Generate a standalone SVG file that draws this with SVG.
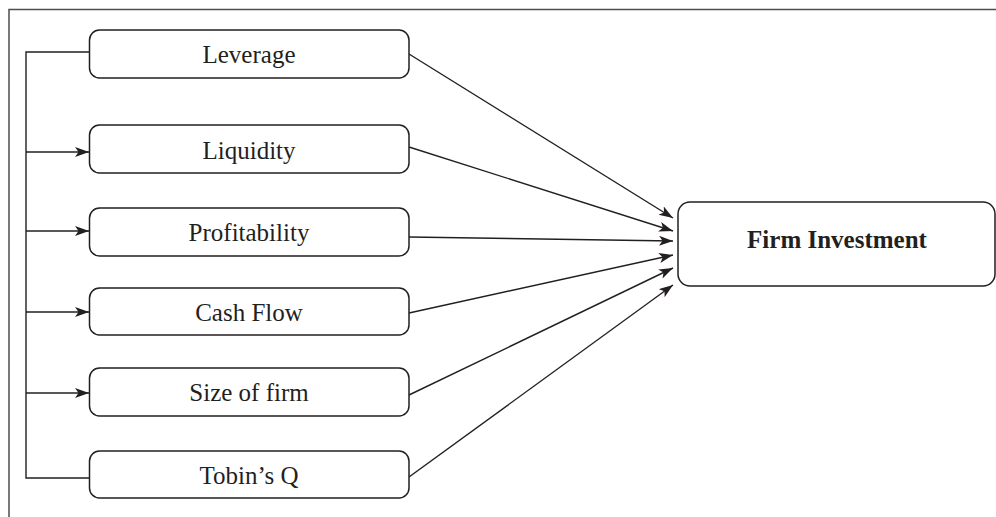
<svg xmlns="http://www.w3.org/2000/svg" width="996" height="517" viewBox="0 0 996 517">
  <style>
    .box { fill: #ffffff; stroke: #231f20; stroke-width: 1.5; }
    .lbl { font-family: "Liberation Serif", "Times New Roman", serif; font-size: 25px; fill: #231f20; text-anchor: middle; }
    .bold { font-weight: bold; }
    .conn { fill: none; stroke: #231f20; stroke-width: 1.4; }
    .frame { fill: none; stroke: #4d4d4d; stroke-width: 1.5; }
  </style>
  <defs>
    <marker id="arr" markerUnits="userSpaceOnUse" markerWidth="16" markerHeight="12" refX="14" refY="5" orient="auto">
      <path d="M0,0 L14,5 L0,10 L3.5,5 Z" fill="#231f20"/>
    </marker>
  </defs>
  <rect class="frame" x="9" y="9.5" width="1000" height="520"/>

  <g id="connectors">
    <polyline class="conn" points="89.5,52 26,52 26,478 89.5,478"/>
    <line class="conn" x1="26" y1="152" x2="89" y2="152" marker-end="url(#arr)"/>
    <line class="conn" x1="26" y1="231" x2="89" y2="231" marker-end="url(#arr)"/>
    <line class="conn" x1="26" y1="312" x2="89" y2="312" marker-end="url(#arr)"/>
    <line class="conn" x1="26" y1="393" x2="89" y2="393" marker-end="url(#arr)"/>
    <line class="conn" x1="409" y1="54" x2="673" y2="218" marker-end="url(#arr)"/>
    <line class="conn" x1="409" y1="147" x2="673" y2="231" marker-end="url(#arr)"/>
    <line class="conn" x1="409" y1="237" x2="673" y2="241" marker-end="url(#arr)"/>
    <line class="conn" x1="409" y1="313" x2="673" y2="255" marker-end="url(#arr)"/>
    <line class="conn" x1="409" y1="395" x2="673" y2="268" marker-end="url(#arr)"/>
    <line class="conn" x1="409" y1="477" x2="673" y2="285" marker-end="url(#arr)"/>
  </g>

  <g id="leverage">
    <rect class="box" x="89.5" y="30" width="319.5" height="48" rx="10"/>
    <text class="lbl" x="249" y="63">Leverage</text>
  </g>
  <g id="liquidity">
    <rect class="box" x="89.5" y="125" width="319.5" height="48" rx="10"/>
    <text class="lbl" x="249" y="159">Liquidity</text>
  </g>
  <g id="profitability">
    <rect class="box" x="89.5" y="208" width="319.5" height="48" rx="10"/>
    <text class="lbl" x="249" y="241">Profitability</text>
  </g>
  <g id="cashflow">
    <rect class="box" x="89.5" y="288" width="319.5" height="47" rx="10"/>
    <text class="lbl" x="249" y="321">Cash Flow</text>
  </g>
  <g id="size">
    <rect class="box" x="89.5" y="368" width="319.5" height="48" rx="10"/>
    <text class="lbl" x="249" y="401">Size of firm</text>
  </g>
  <g id="tobinsq">
    <rect class="box" x="89.5" y="451" width="319.5" height="47" rx="10"/>
    <text class="lbl" x="249" y="484">Tobin’s Q</text>
  </g>
  <g id="firminvestment">
    <rect class="box" x="678" y="202" width="317" height="84" rx="12"/>
    <text class="lbl bold" x="837" y="248">Firm Investment</text>
  </g>
</svg>
